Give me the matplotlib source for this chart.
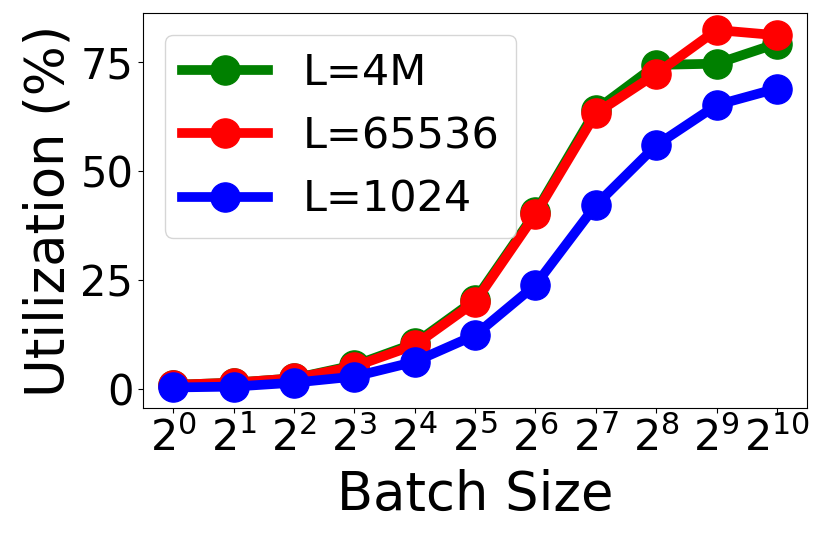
import matplotlib
matplotlib.use("Agg")
import matplotlib.pyplot as plt

exponents = list(range(11))
tick_labels = [f"$2^{{{e}}}$" for e in exponents]
util_4m = [1.0, 1.5, 2.5, 5.5, 10.5, 20.5, 40.5, 64.0, 74.3, 74.6, 79.2]
util_65536 = [1.0, 1.5, 2.5, 5.2, 10.1, 20.0, 40.1, 63.2, 72.3, 82.3, 81.1]
util_1024 = [0.4, 0.6, 1.5, 2.9, 6.3, 12.4, 23.9, 42.2, 55.9, 65.1, 68.9]

fig = plt.figure(figsize=(8.22, 5.35), dpi=100)
ax = fig.add_axes([0.174, 0.2374, 0.808, 0.7383])

ax.plot(exponents, util_4m, color="green", marker="o", lw=7, ms=21, label="L=4M")
ax.plot(exponents, util_65536, color="red", marker="o", lw=7, ms=21, label="L=65536")
ax.plot(exponents, util_1024, color="blue", marker="o", lw=7, ms=21, label="L=1024")

ax.set_xlim(-0.5, 10.5)
ax.set_ylim(-4.3, 86.2)
ax.set_xticks(exponents)
ax.set_xticklabels(tick_labels)
ax.set_yticks([0, 25, 50, 75])
ax.tick_params(axis="x", labelsize=31)
ax.tick_params(axis="y", labelsize=30)
ax.set_xlabel("Batch Size", fontsize=38, labelpad=6)
ax.set_ylabel("Utilization (%)", fontsize=38)
ax.legend(loc="upper left", fontsize=31)

fig.savefig("out.png", dpi=100)
